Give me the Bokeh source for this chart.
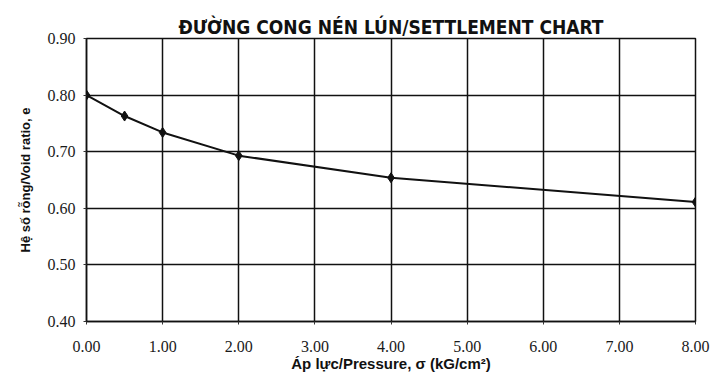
from bokeh.plotting import figure
from bokeh.embed import file_html
from bokeh.resources import INLINE
from bokeh.models import FixedTicker, CustomJSTickFormatter, Range1d

pressure = [0.0, 0.5, 1.0, 2.0, 4.0, 8.0]
void_ratio = [0.800, 0.763, 0.734, 0.693, 0.654, 0.611]
x_ticks = [0, 1, 2, 3, 4, 5, 6, 7, 8]
y_ticks = [0.4, 0.5, 0.6, 0.7, 0.8, 0.9]

p = figure(width=711, height=374, output_backend="svg", toolbar_location=None,
           x_range=Range1d(0, 8), y_range=Range1d(0.4, 0.9),
           min_border_left=86, min_border_right=16, min_border_bottom=52, min_border_top=38)
p.title.text = "ĐƯỜNG CONG NÉN LÚN/SETTLEMENT CHART"
p.title.align = "center"
p.title.text_font = "'DejaVu Sans Condensed', 'Liberation Sans', sans-serif"
p.title.text_font_size = "19px"
p.title.text_font_style = "bold"
p.title.text_color = "#111111"
p.title.offset = 18
p.title.standoff = 1

p.line(pressure, void_ratio, line_color="#111111", line_width=2)
p.scatter(pressure, void_ratio, marker="diamond", size=10, color="#111111")

fmt = CustomJSTickFormatter(code="return tick.toFixed(2);")
p.xaxis.ticker = FixedTicker(ticks=x_ticks)
p.yaxis.ticker = FixedTicker(ticks=y_ticks)
p.xaxis.formatter = fmt
p.yaxis.formatter = fmt
for ax in (p.xaxis, p.yaxis):
    ax.major_label_text_font = "Liberation Serif"
    ax.major_label_text_font_size = "16px"
    ax.major_label_text_color = "#1a1a1a"
    ax.axis_line_color = "#111111"
    ax.axis_line_width = 1.5
    ax.major_tick_in = 0
    ax.major_tick_out = 3
    ax.major_tick_line_color = "#333333"
    ax.minor_tick_line_color = None
    ax.axis_label_text_font = "Liberation Sans"
    ax.axis_label_text_font_style = "bold"
    ax.axis_label_text_color = "#111111"
p.xaxis.major_label_standoff = 16
p.yaxis.major_label_standoff = 8
p.xaxis.axis_label = "Áp lực/Pressure, σ (kG/cm²)"
p.xaxis.axis_label_text_font_size = "15px"
p.xaxis.axis_label_standoff = 0
p.yaxis.axis_label = "Hệ số rỗng/Void ratio, e"
p.yaxis.axis_label_text_font_size = "13px"
p.yaxis.axis_label_standoff = 12

p.grid.grid_line_color = "#111111"
p.grid.grid_line_width = 1.5
p.grid.grid_line_alpha = 1.0
p.outline_line_color = "#111111"
p.outline_line_width = 1.5
p.background_fill_color = "white"
p.border_fill_color = "white"

open("out.html", "w").write(file_html(p, INLINE))
